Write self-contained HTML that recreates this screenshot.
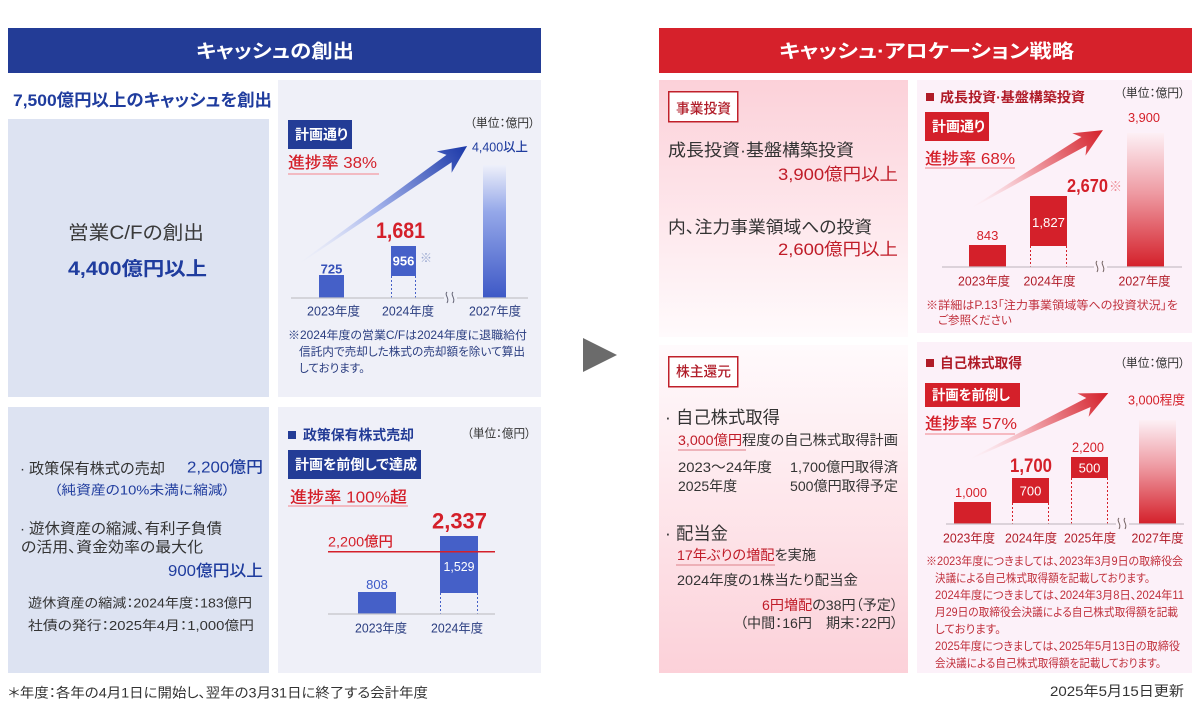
<!DOCTYPE html>
<html><head><meta charset="utf-8">
<style>
html,body{margin:0;padding:0;background:#fff;}
svg{display:block;}
text{font-family:"Liberation Sans","Noto Sans CJK JP",sans-serif;font-feature-settings:"palt";}
</style></head><body>
<svg width="1200" height="709" viewBox="0 0 1200 709" xmlns="http://www.w3.org/2000/svg">
<defs>
<linearGradient id="gPinkDown" x1="0" y1="0" x2="0" y2="1"><stop offset="0" stop-color="#fcd1d9"/><stop offset="1" stop-color="#fffafc"/></linearGradient>
<linearGradient id="gPinkUp" x1="0" y1="0" x2="0" y2="1"><stop offset="0" stop-color="#fffafc"/><stop offset="1" stop-color="#fcd1d9"/></linearGradient>
<linearGradient id="gBlueBar" x1="0" y1="0" x2="0" y2="1"><stop offset="0" stop-color="#eef0fa"/><stop offset="0.35" stop-color="#95a8e9"/><stop offset="1" stop-color="#3d58c6"/></linearGradient>
<linearGradient id="gRedBar" x1="0" y1="0" x2="0" y2="1"><stop offset="0" stop-color="#fdf0f5"/><stop offset="0.45" stop-color="#ee9aa2"/><stop offset="1" stop-color="#d4202a"/></linearGradient>
<linearGradient id="gBlueArrow" gradientUnits="userSpaceOnUse" x1="0" y1="0" x2="204" y2="0"><stop offset="0" stop-color="#eef0fa" stop-opacity="0.3"/><stop offset="0.45" stop-color="#a6b5ec"/><stop offset="1" stop-color="#1b38a8"/></linearGradient>
<linearGradient id="gRedArrow" gradientUnits="userSpaceOnUse" x1="0" y1="0" x2="151" y2="0"><stop offset="0" stop-color="#fdf0f5" stop-opacity="0.3"/><stop offset="0.45" stop-color="#f0a0a8"/><stop offset="1" stop-color="#d4202a"/></linearGradient>
</defs>

<!-- headers -->
<rect x="8" y="28" width="533" height="45" fill="#233c96"/>
<text x="275" y="57.5" font-size="19" font-weight="700" fill="#fff" text-anchor="middle" textLength="158" lengthAdjust="spacingAndGlyphs">キャッシュの創出</text>
<rect x="659" y="28" width="533" height="45" fill="#d6212b"/>
<text x="926.5" y="57.5" font-size="19" font-weight="700" fill="#fff" text-anchor="middle" textLength="295" lengthAdjust="spacingAndGlyphs">キャッシュ·アロケーション戦略</text>

<!-- panels -->
<rect x="8" y="119" width="261" height="278" fill="#dde3f2"/>
<rect x="278" y="80" width="263" height="317" fill="#eff0f8"/>
<rect x="8" y="407" width="261" height="266" fill="#dde3f2"/>
<rect x="278" y="407" width="263" height="266" fill="#eff0f8"/>
<rect x="659" y="80" width="249" height="257" fill="url(#gPinkDown)"/>
<rect x="659" y="345" width="249" height="328" fill="url(#gPinkUp)"/>
<rect x="917" y="80" width="275" height="253" fill="#fcf1f9"/>
<rect x="917" y="342" width="275" height="331" fill="#fcf1f9"/>

<!-- middle arrow -->
<polygon points="583,338 617,355 583,372" fill="#6b6b6b"/>

<!-- ===== Left top ===== -->
<text x="13" y="106" font-size="17" font-weight="700" fill="#1f3c9e" textLength="259" lengthAdjust="spacingAndGlyphs">7,500億円以上のキャッシュを創出</text>
<text x="136" y="239" font-size="19" fill="#3a3a3a" text-anchor="middle" textLength="136" lengthAdjust="spacingAndGlyphs">営業C/Fの創出</text>
<text x="137.5" y="275" font-size="19" font-weight="700" fill="#1f3c9e" text-anchor="middle" textLength="139" lengthAdjust="spacingAndGlyphs">4,400億円以上</text>

<!-- left top chart -->
<rect x="288" y="120" width="64" height="29" fill="#233c96"/>
<text x="321.5" y="139.5" font-size="14" font-weight="700" fill="#fff" text-anchor="middle" textLength="53" lengthAdjust="spacingAndGlyphs">計画通り</text>
<text x="288" y="168" font-size="16" font-weight="500" fill="#d4202a" textLength="89" lengthAdjust="spacingAndGlyphs">進捗率 38%</text>
<line x1="288" y1="174" x2="379" y2="174" stroke="#f3a7b0" stroke-width="1.5"/>
<text x="470" y="127" font-size="12" fill="#333" textLength="65" lengthAdjust="spacingAndGlyphs">（単位：億円）</text>
<text x="472" y="151.5" font-size="13" font-weight="500" fill="#1f3c9e" textLength="56" lengthAdjust="spacingAndGlyphs">4,400以上</text>

<g transform="translate(300,263) rotate(-35)">
<polygon points="0,-0.5 182,-4.5 176,-13 204,0 176,13 182,4.5 0,0.5" fill="url(#gBlueArrow)"/>
</g>

<rect x="483" y="165" width="23" height="133" fill="url(#gBlueBar)"/>
<rect x="319" y="275" width="25" height="23" fill="#4560c8"/>
<text x="331.5" y="273.5" font-size="13" font-weight="700" fill="#3550b8" text-anchor="middle">725</text>
<rect x="391" y="246" width="25" height="30" fill="#4560c8"/>
<text x="403.5" y="265.5" font-size="13" font-weight="700" fill="#fff" text-anchor="middle">956</text>
<text x="420" y="262" font-size="12" fill="#9aa8d0">※</text>
<line x1="391.5" y1="276" x2="391.5" y2="298" stroke="#4560c8" stroke-width="1" stroke-dasharray="2,2"/>
<line x1="415.5" y1="276" x2="415.5" y2="298" stroke="#4560c8" stroke-width="1" stroke-dasharray="2,2"/>
<text x="400.5" y="238" font-size="22" font-weight="700" fill="#d4202a" text-anchor="middle" textLength="49" lengthAdjust="spacingAndGlyphs">1,681</text>
<line x1="291" y1="298" x2="444" y2="298" stroke="#c4c4c8" stroke-width="1.2"/>
<line x1="457" y1="298" x2="528" y2="298" stroke="#c4c4c8" stroke-width="1.2"/>
<path d="M447,292 c-3,3 3,6 0,11 M453,292 c-3,3 3,6 0,11" stroke="#667" stroke-width="1" fill="none"/>
<text x="333.5" y="315.5" font-size="12.5" fill="#2a3d80" text-anchor="middle" textLength="53" lengthAdjust="spacingAndGlyphs">2023年度</text>
<text x="408" y="315.5" font-size="12.5" fill="#2a3d80" text-anchor="middle" textLength="52" lengthAdjust="spacingAndGlyphs">2024年度</text>
<text x="495" y="315.5" font-size="12.5" fill="#2a3d80" text-anchor="middle" textLength="52" lengthAdjust="spacingAndGlyphs">2027年度</text>
<text x="288" y="339" font-size="11.5" fill="#2a3d80" textLength="239" lengthAdjust="spacingAndGlyphs">※2024年度の営業C/Fは2024年度に退職給付</text>
<text x="299" y="355.5" font-size="11.5" fill="#2a3d80" textLength="226" lengthAdjust="spacingAndGlyphs">信託内で売却した株式の売却額を除いて算出</text>
<text x="299" y="372" font-size="11.5" fill="#2a3d80">しております。</text>

<!-- ===== Left bottom ===== -->
<text x="20" y="473.5" font-size="15" fill="#333">·</text>
<text x="29" y="473.5" font-size="15" fill="#333" textLength="136" lengthAdjust="spacingAndGlyphs">政策保有株式の売却</text>
<text x="263" y="472.5" font-size="16" font-weight="500" fill="#1f3c9e" text-anchor="end" textLength="76" lengthAdjust="spacingAndGlyphs">2,200億円</text>
<text x="54" y="494.7" font-size="13" fill="#1f3c9e" textLength="176" lengthAdjust="spacingAndGlyphs">（純資産の10%未満に縮減）</text>
<text x="20" y="533.7" font-size="15" fill="#333">·</text>
<text x="29" y="533.7" font-size="15" fill="#333" textLength="193" lengthAdjust="spacingAndGlyphs">遊休資産の縮減、有利子負債</text>
<text x="21" y="552" font-size="15" fill="#333" textLength="182" lengthAdjust="spacingAndGlyphs">の活用、資金効率の最大化</text>
<text x="263" y="576" font-size="16" font-weight="500" fill="#1f3c9e" text-anchor="end" textLength="95" lengthAdjust="spacingAndGlyphs">900億円以上</text>
<text x="28" y="607.7" font-size="13" fill="#333" textLength="224" lengthAdjust="spacingAndGlyphs">遊休資産の縮減：2024年度：183億円</text>
<text x="28" y="630" font-size="13" fill="#333" textLength="226" lengthAdjust="spacingAndGlyphs">社債の発行：2025年4月：1,000億円</text>

<!-- left bottom chart -->
<rect x="288" y="431" width="8" height="8" fill="#233c96"/>
<text x="303" y="440" font-size="14" font-weight="700" fill="#233c96" textLength="111" lengthAdjust="spacingAndGlyphs">政策保有株式売却</text>
<text x="467" y="437.5" font-size="12" fill="#333" textLength="64" lengthAdjust="spacingAndGlyphs">（単位：億円）</text>
<rect x="288" y="450" width="133" height="29" fill="#233c96"/>
<text x="356" y="469.5" font-size="14" font-weight="700" fill="#fff" text-anchor="middle" textLength="122" lengthAdjust="spacingAndGlyphs">計画を前倒しで達成</text>
<text x="290" y="502.5" font-size="16" font-weight="500" fill="#d4202a" textLength="117" lengthAdjust="spacingAndGlyphs">進捗率 100%超</text>
<line x1="288" y1="506" x2="408" y2="506" stroke="#f3a7b0" stroke-width="1.5"/>
<text x="459.5" y="528.6" font-size="22" font-weight="700" fill="#d4202a" text-anchor="middle" textLength="55" lengthAdjust="spacingAndGlyphs">2,337</text>
<text x="328" y="546.7" font-size="14" font-weight="500" fill="#d4202a" textLength="65" lengthAdjust="spacingAndGlyphs">2,200億円</text>
<rect x="440" y="536" width="38" height="57" fill="#4560c8"/>
<line x1="328" y1="551.7" x2="495" y2="551.7" stroke="#d4202a" stroke-width="1.5"/>
<text x="459" y="571" font-size="13" fill="#fff" text-anchor="middle" textLength="31" lengthAdjust="spacingAndGlyphs">1,529</text>
<rect x="358" y="592" width="38" height="22" fill="#4560c8"/>
<text x="377" y="589" font-size="13" fill="#3c5ac8" text-anchor="middle">808</text>
<line x1="440.5" y1="593" x2="440.5" y2="614" stroke="#4560c8" stroke-width="1" stroke-dasharray="2,2"/>
<line x1="477.5" y1="593" x2="477.5" y2="614" stroke="#4560c8" stroke-width="1" stroke-dasharray="2,2"/>
<line x1="328" y1="614" x2="495" y2="614" stroke="#c4c4c8" stroke-width="1.2"/>
<text x="381" y="632.5" font-size="12.5" fill="#2a3d80" text-anchor="middle" textLength="52" lengthAdjust="spacingAndGlyphs">2023年度</text>
<text x="457" y="632.5" font-size="12.5" fill="#2a3d80" text-anchor="middle" textLength="52" lengthAdjust="spacingAndGlyphs">2024年度</text>

<text x="8" y="697.7" font-size="13.5" fill="#333" textLength="420" lengthAdjust="spacingAndGlyphs">＊年度：各年の4月1日に開始し、翌年の3月31日に終了する会計年度</text>

<!-- ===== Right top text ===== -->
<rect x="668.75" y="91.75" width="69" height="30" fill="#fff" stroke="#c0202a" stroke-width="1.5"/>
<text x="703.5" y="113.3" font-size="14" font-weight="500" fill="#b01c28" text-anchor="middle" textLength="55" lengthAdjust="spacingAndGlyphs">事業投資</text>
<text x="668" y="156" font-size="17" fill="#333" textLength="186" lengthAdjust="spacingAndGlyphs">成長投資·基盤構築投資</text>
<text x="898" y="180" font-size="17" fill="#c01c28" text-anchor="end" textLength="120" lengthAdjust="spacingAndGlyphs">3,900億円以上</text>
<text x="668" y="233" font-size="17" fill="#333" textLength="204" lengthAdjust="spacingAndGlyphs">内、注力事業領域への投資</text>
<text x="898" y="255" font-size="17" fill="#c01c28" text-anchor="end" textLength="120" lengthAdjust="spacingAndGlyphs">2,600億円以上</text>

<!-- right top chart -->
<rect x="926" y="93" width="8" height="8" fill="#b01c28"/>
<text x="940" y="102" font-size="13.5" font-weight="700" fill="#b01c28" textLength="145" lengthAdjust="spacingAndGlyphs">成長投資·基盤構築投資</text>
<text x="1120" y="97" font-size="12" fill="#333" textLength="65" lengthAdjust="spacingAndGlyphs">（単位：億円）</text>
<rect x="925" y="112" width="64" height="29" fill="#d4202a"/>
<text x="958.5" y="131.5" font-size="14" font-weight="700" fill="#fff" text-anchor="middle" textLength="53" lengthAdjust="spacingAndGlyphs">計画通り</text>
<text x="925" y="164" font-size="16" font-weight="500" fill="#d4202a" textLength="90" lengthAdjust="spacingAndGlyphs">進捗率 68%</text>
<line x1="925" y1="168" x2="1015" y2="168" stroke="#f3a7b0" stroke-width="1.5"/>
<g transform="translate(973,207) rotate(-30.6)">
<polygon points="0,-0.5 129,-5 123,-13 151,0 123,13 129,5 0,0.5" fill="url(#gRedArrow)"/>
</g>
<text x="1144" y="122" font-size="13" fill="#d4202a" text-anchor="middle" textLength="32" lengthAdjust="spacingAndGlyphs">3,900</text>
<rect x="1127" y="133" width="37" height="134" fill="url(#gRedBar)"/>
<rect x="969" y="245" width="37" height="22" fill="#d4202a"/>
<text x="987.5" y="240" font-size="13" fill="#d4202a" text-anchor="middle">843</text>
<rect x="1030" y="196" width="37" height="50" fill="#d4202a"/>
<text x="1048.5" y="227" font-size="13" fill="#fff" text-anchor="middle" textLength="33" lengthAdjust="spacingAndGlyphs">1,827</text>
<line x1="1030.5" y1="246" x2="1030.5" y2="267" stroke="#d4202a" stroke-width="1" stroke-dasharray="2,2"/>
<line x1="1066.5" y1="246" x2="1066.5" y2="267" stroke="#d4202a" stroke-width="1" stroke-dasharray="2,2"/>
<text x="1067" y="192" font-size="18" font-weight="700" fill="#d4202a" textLength="41" lengthAdjust="spacingAndGlyphs">2,670</text>
<text x="1109" y="191" font-size="13" fill="#ec8a94">※</text>
<line x1="942" y1="267" x2="1094" y2="267" stroke="#c8c0c8" stroke-width="1.2"/>
<line x1="1107" y1="267" x2="1182" y2="267" stroke="#c8c0c8" stroke-width="1.2"/>
<path d="M1097,261 c-3,3 3,6 0,11 M1103,261 c-3,3 3,6 0,11" stroke="#766" stroke-width="1" fill="none"/>
<text x="984" y="285.5" font-size="12.5" fill="#b01c28" text-anchor="middle" textLength="52" lengthAdjust="spacingAndGlyphs">2023年度</text>
<text x="1049.5" y="285.5" font-size="12.5" fill="#b01c28" text-anchor="middle" textLength="52" lengthAdjust="spacingAndGlyphs">2024年度</text>
<text x="1144.5" y="285.5" font-size="12.5" fill="#b01c28" text-anchor="middle" textLength="52" lengthAdjust="spacingAndGlyphs">2027年度</text>
<text x="926" y="309" font-size="11.5" fill="#c0303c" textLength="252" lengthAdjust="spacingAndGlyphs">※詳細はP.13「注力事業領域等への投資状況」を</text>
<text x="938" y="324" font-size="11.5" fill="#c0303c">ご参照ください</text>

<!-- ===== Right bottom text ===== -->
<rect x="668.75" y="356.75" width="69" height="30" fill="#fff" stroke="#c0202a" stroke-width="1.5"/>
<text x="703.5" y="376.5" font-size="14" font-weight="500" fill="#b01c28" text-anchor="middle" textLength="55" lengthAdjust="spacingAndGlyphs">株主還元</text>
<text x="665" y="423.5" font-size="17.5" fill="#333">·</text>
<text x="676" y="423.5" font-size="17.5" fill="#333" textLength="104" lengthAdjust="spacingAndGlyphs">自己株式取得</text>
<text x="678" y="445" font-size="14" fill="#333" textLength="220" lengthAdjust="spacingAndGlyphs"><tspan fill="#c01c28">3,000億円</tspan>程度の自己株式取得計画</text>
<line x1="678" y1="450" x2="746" y2="450" stroke="#e8a0a8" stroke-width="1.5"/>
<text x="678" y="472" font-size="14" fill="#333" textLength="94" lengthAdjust="spacingAndGlyphs">2023～24年度</text>
<text x="898" y="472" font-size="14" fill="#333" text-anchor="end" textLength="108" lengthAdjust="spacingAndGlyphs">1,700億円取得済</text>
<text x="678" y="491" font-size="14" fill="#333">2025年度</text>
<text x="898" y="491" font-size="14" fill="#333" text-anchor="end" textLength="108" lengthAdjust="spacingAndGlyphs">500億円取得予定</text>
<text x="665" y="539.5" font-size="17.5" fill="#333">·</text>
<text x="676" y="539.5" font-size="17.5" fill="#333" textLength="52" lengthAdjust="spacingAndGlyphs">配当金</text>
<text x="677" y="560" font-size="14" fill="#333" textLength="139" lengthAdjust="spacingAndGlyphs"><tspan fill="#c01c28">17年ぶりの増配</tspan>を実施</text>
<line x1="676" y1="565" x2="775" y2="565" stroke="#e8a0a8" stroke-width="1.5"/>
<text x="677" y="585" font-size="14" fill="#333" textLength="181" lengthAdjust="spacingAndGlyphs">2024年度の1株当たり配当金</text>
<text x="898" y="610" font-size="14" fill="#333" text-anchor="end" textLength="136" lengthAdjust="spacingAndGlyphs"><tspan fill="#c01c28">6円増配</tspan>の38円（予定）</text>
<text x="898" y="628" font-size="14" fill="#333" text-anchor="end" textLength="158" lengthAdjust="spacingAndGlyphs">（中間：16円　期末：22円）</text>

<!-- right bottom chart -->
<rect x="926" y="359" width="8" height="8" fill="#b01c28"/>
<text x="940" y="368" font-size="14" font-weight="700" fill="#b01c28" textLength="82" lengthAdjust="spacingAndGlyphs">自己株式取得</text>
<text x="1120" y="367" font-size="12" fill="#333" textLength="65" lengthAdjust="spacingAndGlyphs">（単位：億円）</text>
<rect x="925" y="383" width="95" height="24" fill="#d4202a"/>
<text x="971" y="400" font-size="14" font-weight="700" fill="#fff" text-anchor="middle" textLength="78" lengthAdjust="spacingAndGlyphs">計画を前倒し</text>
<text x="925" y="429" font-size="16" font-weight="500" fill="#d4202a" textLength="92" lengthAdjust="spacingAndGlyphs">進捗率 57%</text>
<line x1="925" y1="434" x2="1015" y2="434" stroke="#f3a7b0" stroke-width="1.5"/>
<g transform="translate(972,458) rotate(-25.5)">
<polygon points="0,-0.5 129,-5 123,-13 151,0 123,13 129,5 0,0.5" fill="url(#gRedArrow)"/>
</g>
<text x="1156.5" y="404.5" font-size="13" fill="#d4202a" text-anchor="middle" textLength="57" lengthAdjust="spacingAndGlyphs">3,000程度</text>
<rect x="1139" y="420" width="37" height="104" fill="url(#gRedBar)"/>
<rect x="954" y="502" width="37" height="22" fill="#d4202a"/>
<text x="971" y="497" font-size="13" fill="#d4202a" text-anchor="middle" textLength="32" lengthAdjust="spacingAndGlyphs">1,000</text>
<rect x="1012" y="478" width="37" height="25" fill="#d4202a"/>
<text x="1030.5" y="495.5" font-size="13" fill="#fff" text-anchor="middle">700</text>
<text x="1031" y="472" font-size="19" font-weight="700" fill="#d4202a" text-anchor="middle" textLength="42" lengthAdjust="spacingAndGlyphs">1,700</text>
<rect x="1071" y="457" width="37" height="21" fill="#d4202a"/>
<text x="1089.5" y="472.5" font-size="13" fill="#fff" text-anchor="middle">500</text>
<text x="1088" y="452" font-size="14" fill="#d4202a" text-anchor="middle" textLength="32" lengthAdjust="spacingAndGlyphs">2,200</text>
<line x1="1012.5" y1="503" x2="1012.5" y2="524" stroke="#d4202a" stroke-width="1" stroke-dasharray="2,2"/>
<line x1="1048.5" y1="503" x2="1048.5" y2="524" stroke="#d4202a" stroke-width="1" stroke-dasharray="2,2"/>
<line x1="1071.5" y1="478" x2="1071.5" y2="524" stroke="#d4202a" stroke-width="1" stroke-dasharray="2,2"/>
<line x1="1107.5" y1="478" x2="1107.5" y2="524" stroke="#d4202a" stroke-width="1" stroke-dasharray="2,2"/>
<line x1="946" y1="524" x2="1116" y2="524" stroke="#c8c0c8" stroke-width="1.2"/>
<line x1="1129" y1="524" x2="1184" y2="524" stroke="#c8c0c8" stroke-width="1.2"/>
<path d="M1119,518 c-3,3 3,6 0,11 M1125,518 c-3,3 3,6 0,11" stroke="#766" stroke-width="1" fill="none"/>
<text x="969" y="542.5" font-size="12.5" fill="#b01c28" text-anchor="middle" textLength="52" lengthAdjust="spacingAndGlyphs">2023年度</text>
<text x="1031" y="542.5" font-size="12.5" fill="#b01c28" text-anchor="middle" textLength="52" lengthAdjust="spacingAndGlyphs">2024年度</text>
<text x="1090" y="542.5" font-size="12.5" fill="#b01c28" text-anchor="middle" textLength="52" lengthAdjust="spacingAndGlyphs">2025年度</text>
<text x="1157.5" y="542.5" font-size="12.5" fill="#b01c28" text-anchor="middle" textLength="52" lengthAdjust="spacingAndGlyphs">2027年度</text>

<text x="926" y="565" font-size="11.5" fill="#c0303c" textLength="257" lengthAdjust="spacingAndGlyphs">※2023年度につきましては、2023年3月9日の取締役会</text>
<text x="935" y="582" font-size="11.5" fill="#c0303c" textLength="215" lengthAdjust="spacingAndGlyphs">決議による自己株式取得額を記載しております。</text>
<text x="935" y="599" font-size="11.5" fill="#c0303c" textLength="249" lengthAdjust="spacingAndGlyphs">2024年度につきましては、2024年3月8日、2024年11</text>
<text x="935" y="616" font-size="11.5" fill="#c0303c" textLength="243" lengthAdjust="spacingAndGlyphs">月29日の取締役会決議による自己株式取得額を記載</text>
<text x="935" y="633" font-size="11.5" fill="#c0303c">しております。</text>
<text x="935" y="650" font-size="11.5" fill="#c0303c" textLength="245" lengthAdjust="spacingAndGlyphs">2025年度につきましては、2025年5月13日の取締役</text>
<text x="935" y="667" font-size="11.5" fill="#c0303c" textLength="226" lengthAdjust="spacingAndGlyphs">会決議による自己株式取得額を記載しております。</text>

<text x="1184" y="696" font-size="14" fill="#333" text-anchor="end" textLength="134" lengthAdjust="spacingAndGlyphs">2025年5月15日更新</text>
</svg>
</body></html>
